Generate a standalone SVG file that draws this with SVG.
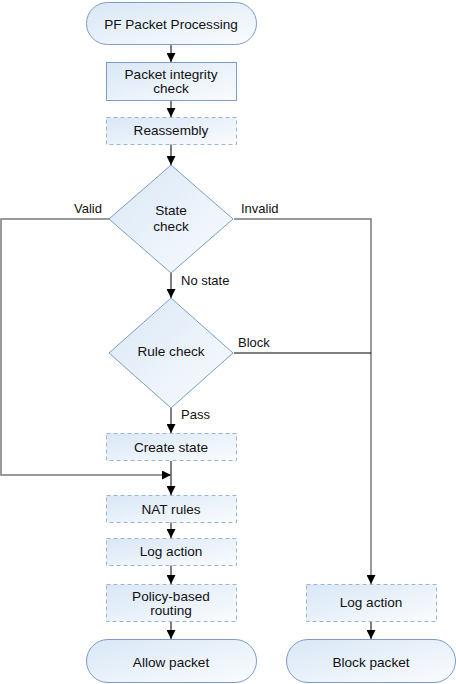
<svg xmlns="http://www.w3.org/2000/svg" width="456" height="684" viewBox="0 0 456 684">
<style>
.n{fill:url(#g);stroke:#7b9dc7;stroke-width:1}
.d{fill:url(#g);stroke:#9db5d4;stroke-width:1;stroke-dasharray:4,3}
.t{font-family:"Liberation Sans",Arial,sans-serif;font-size:13.6px;fill:#111;text-anchor:middle}
.l{font-family:"Liberation Sans",Arial,sans-serif;font-size:13px;fill:#111}
.c{fill:none;stroke:#000;stroke-width:1}
.gr{fill:none;stroke:#7a7a7a;stroke-width:1.5}
</style>
<defs>
<linearGradient id="g" x1="0" y1="0" x2="1" y2="1">
<stop offset="0" stop-color="#d9e7f6"/>
<stop offset="1" stop-color="#fafcfe"/>
</linearGradient>
<marker id="a" viewBox="0 0 10 10" refX="10" refY="5" markerWidth="9" markerHeight="9" markerUnits="userSpaceOnUse" orient="auto">
<path d="M0,0 L10,5 L0,10 z" fill="#000"/>
</marker>
</defs>
<g id="connectors">
<line class="c" x1="171" y1="44" x2="171" y2="62" marker-end="url(#a)"/>
<line class="c" x1="171" y1="100" x2="171" y2="117" marker-end="url(#a)"/>
<line class="c" x1="171" y1="144" x2="171" y2="165" marker-end="url(#a)"/>
<line class="c" x1="171" y1="273" x2="171" y2="298" marker-end="url(#a)"/>
<line class="c" x1="171" y1="408" x2="171" y2="433" marker-end="url(#a)"/>
<line class="c" x1="171" y1="461" x2="171" y2="495" marker-end="url(#a)"/>
<line class="c" x1="171" y1="522" x2="171" y2="538" marker-end="url(#a)"/>
<line class="c" x1="171" y1="565" x2="171" y2="584" marker-end="url(#a)"/>
<line class="c" x1="171" y1="621" x2="171" y2="639" marker-end="url(#a)"/>
<line class="c" x1="371" y1="621" x2="371" y2="639" marker-end="url(#a)"/>
<polyline class="gr" points="110,219 1,219 1,475 171,475" marker-end="url(#a)"/>
<polyline class="gr" points="234,219 371,219 371,584" marker-end="url(#a)"/>
<line class="c" x1="234" y1="353" x2="371" y2="353"/>
<text class="l" x="74" y="213">Valid</text>
<text class="l" x="241" y="213">Invalid</text>
<text class="l" x="181" y="285">No state</text>
<text class="l" x="238" y="347">Block</text>
<text class="l" x="181" y="419">Pass</text>
</g>
<g id="start">
<rect class="n" x="86.5" y="2.5" width="170" height="42" rx="21"/>
<text class="t" x="171" y="29">PF Packet Processing</text>
</g>
<g id="integrity">
<rect class="n" x="106.5" y="62.5" width="130" height="38"/>
<text class="t" x="171" y="79">Packet integrity</text>
<text class="t" x="171" y="93">check</text>
</g>
<g id="reassembly">
<rect class="d" x="106.5" y="117.5" width="130" height="27"/>
<text class="t" x="171" y="135">Reassembly</text>
</g>
<g id="statecheck">
<polygon class="n" points="171,165 233,219 171,273 109,219"/>
<text class="t" x="171" y="215">State</text>
<text class="t" x="171" y="231">check</text>
</g>
<g id="rulecheck">
<polygon class="n" points="171,298 233,353 171,408 109,353"/>
<text class="t" x="171" y="356">Rule check</text>
</g>
<g id="createstate">
<rect class="d" x="106.5" y="433.5" width="130" height="27"/>
<text class="t" x="171" y="452">Create state</text>
</g>
<g id="nat">
<rect class="d" x="106.5" y="495.5" width="130" height="27"/>
<text class="t" x="171" y="514">NAT rules</text>
</g>
<g id="log1">
<rect class="d" x="106.5" y="538.5" width="130" height="27"/>
<text class="t" x="171" y="556">Log action</text>
</g>
<g id="policy">
<rect class="d" x="106.5" y="584.5" width="130" height="37"/>
<text class="t" x="171" y="601">Policy-based</text>
<text class="t" x="171" y="615">routing</text>
</g>
<g id="allow">
<rect class="n" x="86.5" y="639.5" width="170" height="43" rx="21.5"/>
<text class="t" x="171" y="667">Allow packet</text>
</g>
<g id="log2">
<rect class="d" x="306.5" y="584.5" width="130" height="37"/>
<text class="t" x="371" y="607">Log action</text>
</g>
<g id="block">
<rect class="n" x="286.5" y="639.5" width="169" height="43" rx="21.5"/>
<text class="t" x="371" y="667">Block packet</text>
</g>
</svg>
